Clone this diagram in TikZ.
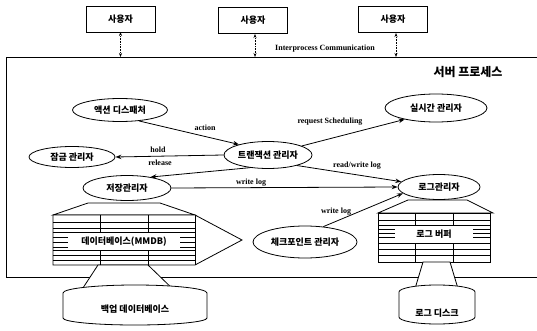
\documentclass[tikz,border=0pt]{standalone}
\usepackage{fontspec}
\setmainfont{Liberation Serif}
\newfontfamily\kr{Noto Sans CJK KR}
\usetikzlibrary{shapes.geometric,arrows.meta}
\begin{document}
\begin{tikzpicture}[x=1pt,y=-1pt,
 lbl/.style={font=\fontsize{8}{9}\selectfont\bfseries, inner sep=1pt},
 kt/.style={font=\kr\bfseries\fontsize{9}{10}\selectfont},
 ell/.style={ellipse, draw, line width=0.8pt, kt, inner sep=0pt, fill=white},
 userbox/.style={draw, line width=0.9pt, minimum width=69pt, minimum height=26pt, kt},
 arr/.style={-{Stealth[length=6pt,width=4.5pt,open]}, line width=0.8pt},
 ipc/.style={{Stealth[length=4pt,width=3pt]}-{Stealth[length=4pt,width=3pt]}, densely dotted, line width=0.6pt},
 shp/.style={draw, line width=0.8pt, fill=white},
 thin/.style={line width=0.6pt}]
\useasboundingbox (0,0) rectangle (537,331);

% users
\node[userbox] (u1) at (120.5,19) {사용자};
\node[userbox] (u2) at (253,20.5) {사용자};
\node[userbox] (u3) at (393,19.5) {사용자};

% server process box
\draw[line width=0.8pt] (537,57) -- (6,57) -- (6,277) -- (537,277);
\coordinate (s1) at (120.5,57);
\coordinate (s2) at (255,57);
\coordinate (s3) at (396,57);
\draw[ipc] (120.5,32) -- (s1);
\draw[ipc] (255,34) -- (s2);
\draw[ipc] (396,33) -- (s3);
\node[lbl] (ipcl) at (325,49) {Interprocess Communication};
\node[font=\kr\bfseries\fontsize{12}{13}\selectfont] (srv) at (468,72) {서버 프로세스};

% ellipses
\node[ell, minimum width=95pt, minimum height=23pt] (act) at (120,110) {액션 디스패처};
\node[ell, minimum width=86pt, minimum height=21pt] (lock) at (72,157) {잠금 관리자};
\node[ell, minimum width=88pt, minimum height=27pt] (trans) at (268,155) {트랜잭션 관리자};
\node[ell, minimum width=102pt, minimum height=28pt] (rt) at (436,108) {실시간 관리자};
\node[ell, minimum width=88pt, minimum height=25pt] (store) at (127,188) {저장관리자};
\node[ell, minimum width=82pt, minimum height=25pt] (logm) at (439,187) {로그관리자};
\node[ell, minimum width=104pt, minimum height=32pt] (ckpt) at (305,242) {체크포인트 관리자};

% connectors
\draw[arr] (act.-30) -- (trans.160);
\node[lbl] (la) at (205,128) {action};
\draw[arr] (trans.west) -- (lock.east);
\node[lbl] (lh) at (158,150) {hold};
\node[lbl] (lr) at (160,163) {release};
\draw[arr] (trans.215) -- (store.25);
\draw[arr] (trans.15) -- (rt.200);
\node[lbl] (lq) at (330,122) {request Scheduling};
\draw[arr] (trans.-20) -- (logm.172);
\node[lbl] (lrw) at (357,166) {read/write log};
\draw[arr] (store.east) -- (logm.west);
\node[lbl] (lw1) at (251,183) {write log};
\draw[arr] (ckpt.40) -- (logm.190);
\node[lbl] (lw2) at (336,212) {write log};

% database (MMDB)
\draw[shp] (88,203) -- (160,203) -- (195,215) -- (53,215) -- cycle;
\draw[shp] (53,215) -- (195,215) -- (242,240) -- (195,265) -- (53,265) -- cycle;
\draw[thin] (195,215) -- (195,265);
\foreach \yy in {222,228,232,250,255,260} \draw[thin] (53,\yy) -- (195,\yy);
\foreach \xx in {100,148} {\draw[thin] (\xx,215) -- (\xx,232); \draw[thin] (\xx,250) -- (\xx,265);}
\foreach \yy in {237,242,247} {\draw[thin] (53,\yy) -- (68,\yy); \draw[thin] (180,\yy) -- (195,\yy);}
\node[kt] (db) at (124,242) {데이터베이스(MMDB)};

% backup database
\draw[shp] (98,265) -- (148,265) -- (178,294) -- (79,294) -- cycle;
\draw[shp] (63,293) -- (63,318) arc[start angle=180, end angle=0, x radius=72, y radius=7] -- (207,293) arc[start angle=0, end angle=-180, x radius=72, y radius=8] -- cycle;
\node[kt] (bdb) at (135,309) {백업 데이터베이스};

% log buffer
\draw[shp] (408,200) -- (467,200) -- (493,213) -- (378,213) -- cycle;
\draw[shp] (378,213) rectangle (490,262);
\foreach \yy in {220,225,243,249,255} \draw[thin] (378,\yy) -- (490,\yy);
\foreach \xx in {415,453} {\draw[thin] (\xx,213) -- (\xx,225); \draw[thin] (\xx,243) -- (\xx,262);}
\foreach \yy in {229,233,237} {\draw[thin] (378,\yy) -- (395,\yy); \draw[thin] (473,\yy) -- (490,\yy);}
\node[kt] (lb) at (434,234) {로그 버퍼};

% log disk
\draw[shp] (423,262) -- (450,262) -- (459,292) -- (414,292) -- cycle;
\draw[shp] (399,292) -- (399,317) arc[start angle=180, end angle=0, x radius=38, y radius=7] -- (475,292) arc[start angle=0, end angle=-180, x radius=38, y radius=7] -- cycle;
\node[kt] (ld) at (437,313) {로그 디스크};
\end{tikzpicture}
\end{document}
